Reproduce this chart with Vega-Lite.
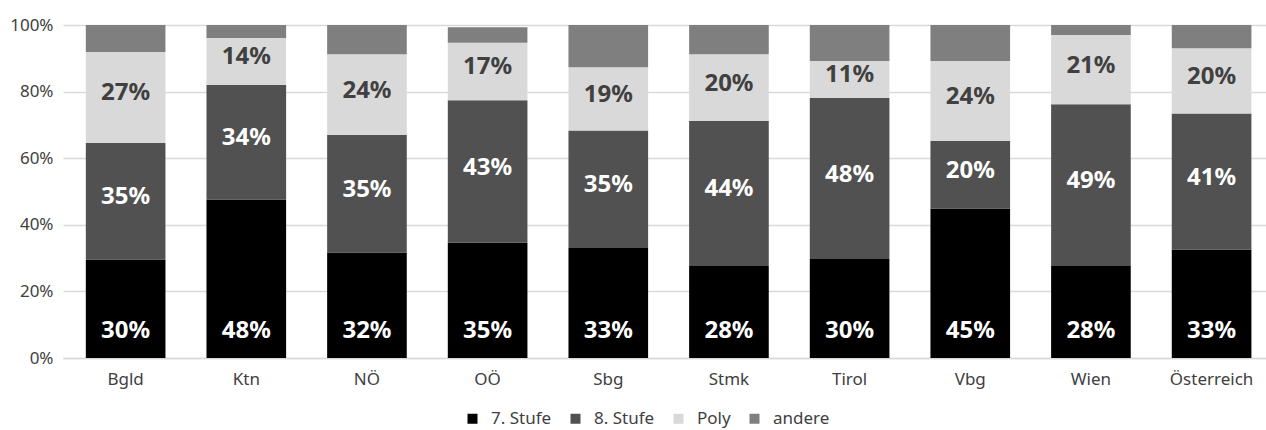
{
  "$schema": "https://vega.github.io/schema/vega-lite/v6.json",
  "width": 1203,
  "height": 333,
  "autosize": {"type": "none"},
  "padding": {"left": 63, "top": 25, "right": 0, "bottom": 72},
  "config": {"view": {"stroke": null}, "font": "Noto Sans"},
  "data": {"values": [
    {"region": "Bgld", "series": "7. Stufe", "value": 0.296},
    {"region": "Bgld", "series": "8. Stufe", "value": 0.350},
    {"region": "Bgld", "series": "Poly", "value": 0.273},
    {"region": "Bgld", "series": "andere", "value": 0.081},
    {"region": "Ktn", "series": "7. Stufe", "value": 0.476},
    {"region": "Ktn", "series": "8. Stufe", "value": 0.344},
    {"region": "Ktn", "series": "Poly", "value": 0.141},
    {"region": "Ktn", "series": "andere", "value": 0.039},
    {"region": "NÖ", "series": "7. Stufe", "value": 0.317},
    {"region": "NÖ", "series": "8. Stufe", "value": 0.353},
    {"region": "NÖ", "series": "Poly", "value": 0.242},
    {"region": "NÖ", "series": "andere", "value": 0.088},
    {"region": "OÖ", "series": "7. Stufe", "value": 0.346},
    {"region": "OÖ", "series": "8. Stufe", "value": 0.428},
    {"region": "OÖ", "series": "Poly", "value": 0.173},
    {"region": "OÖ", "series": "andere", "value": 0.046},
    {"region": "Sbg", "series": "7. Stufe", "value": 0.330},
    {"region": "Sbg", "series": "8. Stufe", "value": 0.353},
    {"region": "Sbg", "series": "Poly", "value": 0.190},
    {"region": "Sbg", "series": "andere", "value": 0.127},
    {"region": "Stmk", "series": "7. Stufe", "value": 0.276},
    {"region": "Stmk", "series": "8. Stufe", "value": 0.436},
    {"region": "Stmk", "series": "Poly", "value": 0.200},
    {"region": "Stmk", "series": "andere", "value": 0.088},
    {"region": "Tirol", "series": "7. Stufe", "value": 0.297},
    {"region": "Tirol", "series": "8. Stufe", "value": 0.484},
    {"region": "Tirol", "series": "Poly", "value": 0.111},
    {"region": "Tirol", "series": "andere", "value": 0.108},
    {"region": "Vbg", "series": "7. Stufe", "value": 0.449},
    {"region": "Vbg", "series": "8. Stufe", "value": 0.203},
    {"region": "Vbg", "series": "Poly", "value": 0.240},
    {"region": "Vbg", "series": "andere", "value": 0.108},
    {"region": "Wien", "series": "7. Stufe", "value": 0.276},
    {"region": "Wien", "series": "8. Stufe", "value": 0.486},
    {"region": "Wien", "series": "Poly", "value": 0.208},
    {"region": "Wien", "series": "andere", "value": 0.030},
    {"region": "Österreich", "series": "7. Stufe", "value": 0.326},
    {"region": "Österreich", "series": "8. Stufe", "value": 0.408},
    {"region": "Österreich", "series": "Poly", "value": 0.196},
    {"region": "Österreich", "series": "andere", "value": 0.070}
  ]},
  "encoding": {
    "x": {
      "field": "region", "type": "nominal", "sort": null,
      "scale": {"paddingInner": 0.34, "paddingOuter": 0.155, "align": 0.61},
      "axis": {"title": null, "labelAngle": 0, "labelFontSize": 17, "labelColor": "#404040", "ticks": false, "tickSize": 0, "labelPadding": 13, "domain": true, "domainColor": "#d9d9d9", "domainWidth": 1.5}
    }
  },
  "layer": [
    {
      "mark": {"type": "bar"},
      "encoding": {
        "y": {"field": "value", "type": "quantitative", "stack": "zero",
          "scale": {"domain": [0, 1]},
          "axis": {"title": null, "format": ".0%", "values": [0, 0.2, 0.4, 0.6, 0.8, 1], "domain": false, "ticks": false, "tickSize": 0, "labelPadding": 10, "labelFontSize": 17, "labelColor": "#404040", "gridColor": "#d9d9d9", "gridWidth": 1.5}},
        "color": {"field": "series", "type": "nominal",
          "scale": {"domain": ["7. Stufe", "8. Stufe", "Poly", "andere"], "range": ["#000000", "#515151", "#d9d9d9", "#7f7f7f"]},
          "legend": {"title": null, "orient": "none", "direction": "horizontal", "legendX": 401, "legendY": 385, "symbolType": "square", "symbolSize": 100, "symbolStrokeWidth": 0, "symbolOpacity": 1, "labelFontSize": 17, "labelColor": "#404040", "labelOffset": 10, "columnPadding": 15, "padding": 0}},
        "order": {"field": "series"}
      }
    },
    {
      "transform": [{"filter": "datum.series === '7. Stufe'"}],
      "mark": {"type": "text", "fontSize": 24, "fontWeight": "bold", "color": "white", "dy": -27.5, "baseline": "middle"},
      "encoding": {
        "y": {"datum": 0, "type": "quantitative"},
        "text": {"field": "value", "type": "quantitative", "format": ".0%"}
      }
    },
    {
      "mark": {"type": "text", "fontSize": 24, "fontWeight": "bold", "dy": -4, "baseline": "middle"},
      "encoding": {
        "y": {"field": "value", "type": "quantitative", "stack": "zero", "bandPosition": 0.5},
        "detail": {"field": "series"},
        "order": {"field": "series"},
        "text": {"field": "value", "type": "quantitative", "format": ".0%"},
        "color": {"condition": {"test": "datum.series === 'Poly'", "value": "#404040"}, "value": "#ffffff"},
        "opacity": {"condition": {"test": "datum.series === '8. Stufe' || datum.series === 'Poly'", "value": 1}, "value": 0}
      }
    }
  ]
}
